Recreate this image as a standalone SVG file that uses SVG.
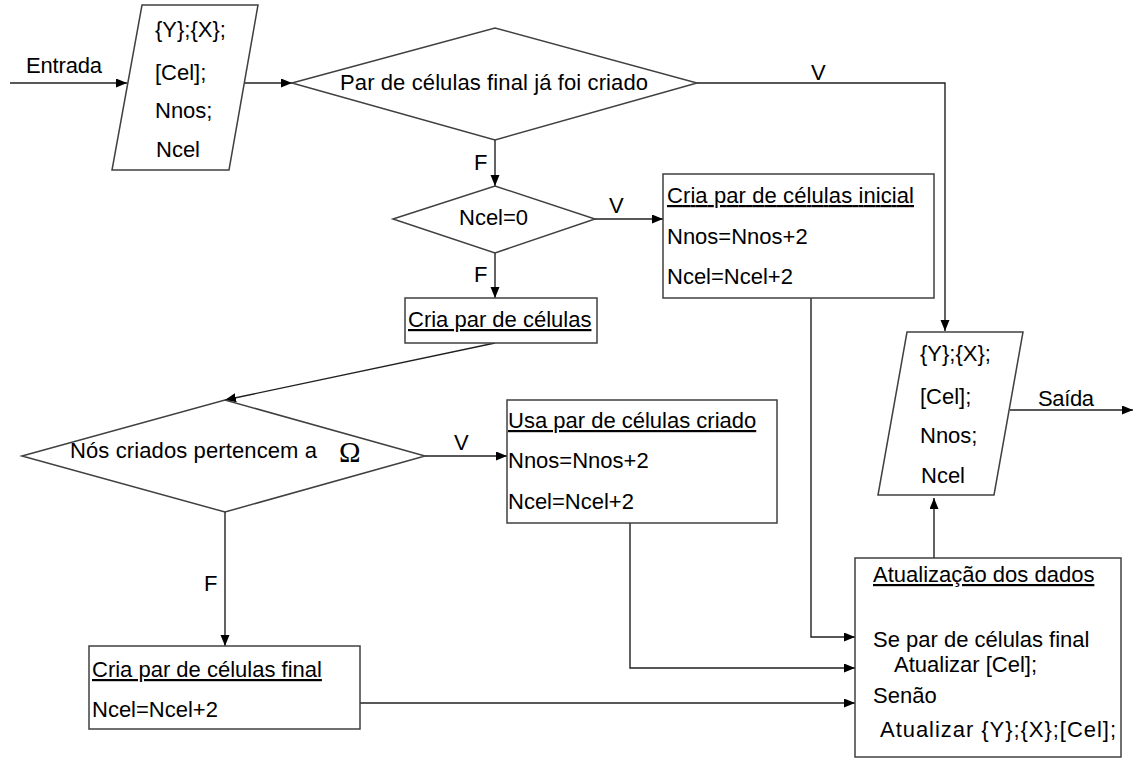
<svg xmlns="http://www.w3.org/2000/svg" width="1134" height="760" viewBox="0 0 1134 760">
<style>
  .shape { fill: #ffffff; stroke: #404040; stroke-width: 1.5; }
  .line { fill: none; stroke: #202020; stroke-width: 1.4; }
  .arrow { marker-end: url(#ah); }
  text { font-family: "Liberation Sans", Arial, sans-serif; font-size: 22px; fill: #000; }
  .u { text-decoration: underline; }
  .omega { font-family: "Liberation Serif", "Times New Roman", serif; font-size: 29px; }
</style>
<defs>
  <marker id="ah" markerUnits="userSpaceOnUse" markerWidth="12" markerHeight="10" refX="11" refY="4.5" orient="auto">
    <path d="M0,0 L11,4.5 L0,9 z" fill="#000"/>
  </marker>
</defs>
<rect width="1134" height="760" fill="#ffffff"/>

<g id="connectors">
  <line class="line arrow" x1="10" y1="83" x2="127" y2="83"/>
  <text x="26" y="73" textLength="76" lengthAdjust="spacing">Entrada</text>
  <line class="line arrow" x1="245" y1="83" x2="292" y2="83"/>
  <polyline class="line arrow" points="697,83 945,83 945,331"/>
  <text x="811" y="80">V</text>
  <line class="line arrow" x1="495" y1="140" x2="495" y2="186"/>
  <text x="474" y="170">F</text>
  <line class="line arrow" x1="595" y1="219" x2="663" y2="219"/>
  <text x="609" y="213">V</text>
  <line class="line arrow" x1="495" y1="253" x2="495" y2="298"/>
  <text x="474" y="282">F</text>
  <line class="line arrow" x1="495" y1="343" x2="225" y2="400"/>
  <line class="line arrow" x1="425" y1="456" x2="507" y2="456"/>
  <text x="454" y="450">V</text>
  <line class="line arrow" x1="225" y1="512" x2="225" y2="646"/>
  <text x="204" y="591">F</text>
  <polyline class="line arrow" points="811,298 811,637 855,637"/>
  <polyline class="line arrow" points="630,523 630,668 855,668"/>
  <line class="line arrow" x1="360" y1="703" x2="855" y2="703"/>
  <line class="line arrow" x1="934" y1="558" x2="934" y2="498"/>
  <line class="line arrow" x1="1010" y1="410" x2="1133" y2="410"/>
  <text x="1038" y="406" textLength="56" lengthAdjust="spacing">Saída</text>
</g>

<g id="entrada">
  <polygon class="shape" points="142,5 258,5 229,170 112,170"/>
  <text x="155" y="37">{Y};{X};</text>
  <text x="155" y="80">[Cel];</text>
  <text x="155" y="118">Nnos;</text>
  <text x="156" y="157">Ncel</text>
</g>

<g id="decisao-par-final">
  <polygon class="shape" points="292,83 495,28 697,83 495,140"/>
  <text x="340" y="90" textLength="308" lengthAdjust="spacing">Par de células final já foi criado</text>
</g>

<g id="decisao-ncel">
  <polygon class="shape" points="393,219 495,186 595,219 495,253"/>
  <text x="459" y="225">Ncel=0</text>
</g>

<g id="cria-par-inicial">
  <rect class="shape" x="663" y="174" width="271" height="124"/>
  <text class="u" x="667" y="203" textLength="247" lengthAdjust="spacing">Cria par de células inicial</text>
  <text x="667" y="244">Nnos=Nnos+2</text>
  <text x="667" y="284">Ncel=Ncel+2</text>
</g>

<g id="cria-par">
  <rect class="shape" x="405" y="298" width="192" height="45"/>
  <text class="u" x="408" y="327">Cria par de células</text>
</g>

<g id="decisao-nos">
  <polygon class="shape" points="22,456 225,400 425,456 225,512"/>
  <text x="70" y="458" textLength="247" lengthAdjust="spacing">Nós criados pertencem a</text>
  <text class="omega" x="339" y="462">Ω</text>
</g>

<g id="usa-par">
  <rect class="shape" x="507" y="400" width="270" height="123"/>
  <text class="u" x="508" y="428">Usa par de células criado</text>
  <text x="508" y="468">Nnos=Nnos+2</text>
  <text x="508" y="509">Ncel=Ncel+2</text>
</g>

<g id="cria-par-final">
  <rect class="shape" x="89" y="646" width="271" height="83"/>
  <text class="u" x="92" y="677">Cria par de células final</text>
  <text x="92" y="717">Ncel=Ncel+2</text>
</g>

<g id="saida">
  <polygon class="shape" points="907,332 1023,332 994,495 878,495"/>
  <text x="920" y="361">{Y};{X};</text>
  <text x="920" y="404">[Cel];</text>
  <text x="920" y="443">Nnos;</text>
  <text x="921" y="483">Ncel</text>
</g>

<g id="atualizacao">
  <rect class="shape" x="855" y="558" width="266" height="199"/>
  <text class="u" x="873" y="582">Atualização dos dados</text>
  <text x="873" y="647">Se par de células final</text>
  <text x="894" y="672">Atualizar [Cel];</text>
  <text x="873" y="703">Senão</text>
  <text x="880" y="737" textLength="236" lengthAdjust="spacing">Atualizar {Y};{X};[Cel];</text>
</g>
</svg>
